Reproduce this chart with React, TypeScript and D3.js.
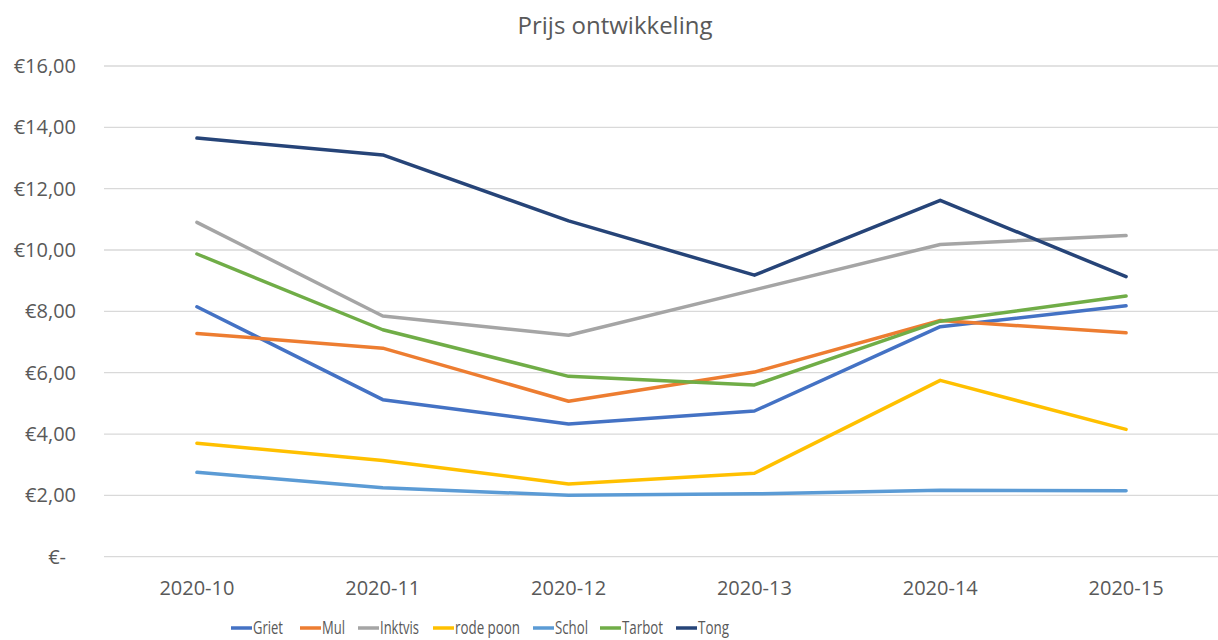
import React, { useEffect, useRef } from 'react';
import * as d3 from 'd3';

const weeks = ['2020-10', '2020-11', '2020-12', '2020-13', '2020-14', '2020-15'];
const griet = [8.15, 5.12, 4.33, 4.75, 7.5, 8.18];
const mul = [7.28, 6.8, 5.07, 6.02, 7.7, 7.3];
const inktvis = [10.9, 7.85, 7.22, 8.7, 10.18, 10.47];
const rodePoon = [3.7, 3.14, 2.37, 2.72, 5.75, 4.15];
const schol = [2.75, 2.25, 2.0, 2.05, 2.17, 2.15];
const tarbot = [9.87, 7.4, 5.88, 5.6, 7.68, 8.5];
const tong = [13.65, 13.1, 10.95, 9.18, 11.62, 9.13];
const yTicks = [0, 2, 4, 6, 8, 10, 12, 14, 16];

const series = [
  { name: 'Griet', values: griet, color: '#4472C4' },
  { name: 'Mul', values: mul, color: '#ED7D31' },
  { name: 'Inktvis', values: inktvis, color: '#A5A5A5' },
  { name: 'rode poon', values: rodePoon, color: '#FFC000' },
  { name: 'Schol', values: schol, color: '#5B9BD5' },
  { name: 'Tarbot', values: tarbot, color: '#70AD47' },
  { name: 'Tong', values: tong, color: '#264478' },
];

const W = 1218;
const H = 640;
const FONT = '"Open Sans", "Liberation Sans", sans-serif';

const App: React.FC = () => {
  const svgRef = useRef<SVGSVGElement>(null);

  useEffect(() => {
    document.body.style.margin = '0';
    if (!svgRef.current) return;
    const svg = d3.select(svgRef.current);
    svg.selectAll('*').remove();

    const x = d3.scaleBand().domain(weeks).range([104, 1219]);
    const y = d3.scaleLinear().domain([0, 16]).range([556.7, 66]);
    const cx = (w: string) => (x(w) as number) + x.bandwidth() / 2;

    svg.append('rect').attr('width', W).attr('height', H).attr('fill', '#fff');

    // title
    svg.append('text')
      .attr('x', 615).attr('y', 34)
      .attr('text-anchor', 'middle')
      .attr('font-family', FONT).attr('font-size', 24)
      .attr('fill', '#595959')
      .text('Prijs ontwikkeling');

    // gridlines + y labels
    const g = svg.append('g');
    yTicks.forEach((t) => {
      g.append('line')
        .attr('x1', 104).attr('x2', 1218)
        .attr('y1', y(t)).attr('y2', y(t))
        .attr('stroke', '#D9D9D9').attr('stroke-width', 1.3);
      g.append('text')
        .attr('x', t === 0 ? 66 : 76)
        .attr('y', y(t) + 7)
        .attr('text-anchor', 'end')
        .attr('font-family', FONT).attr('font-size', 20)
        .attr('fill', '#595959')
        .text(t === 0 ? '€-' : '€' + d3.format('.2f')(t).replace('.', ','));
    });

    // x labels
    weeks.forEach((w) => {
      svg.append('text')
        .attr('x', cx(w)).attr('y', 595)
        .attr('text-anchor', 'middle')
        .attr('font-family', FONT).attr('font-size', 20)
        .attr('fill', '#595959')
        .text(w);
    });

    // lines
    const line = d3.line<number>()
      .x((_, i) => cx(weeks[i]))
      .y((d) => y(d));
    series.forEach((s) => {
      svg.append('path')
        .attr('d', line(s.values) as string)
        .attr('fill', 'none')
        .attr('stroke', s.color)
        .attr('stroke-width', 3.5)
        .attr('stroke-linejoin', 'round')
        .attr('stroke-linecap', 'round');
    });

    // legend (Calibri is narrow, so squeeze text to the original widths)
    const legendX = [231, 300, 358, 433, 533, 600, 676];
    const legendW = [30, 23, 39, 65, 33, 41, 31];
    series.forEach((s, i) => {
      const lx = legendX[i];
      svg.append('line')
        .attr('x1', lx).attr('x2', lx + 21)
        .attr('y1', 628).attr('y2', 628)
        .attr('stroke', s.color).attr('stroke-width', 3.5);
      svg.append('text')
        .attr('x', lx + 22).attr('y', 634)
        .attr('font-family', FONT).attr('font-size', 19)
        .attr('fill', '#595959')
        .attr('textLength', legendW[i])
        .attr('lengthAdjust', 'spacingAndGlyphs')
        .text(s.name);
    });
  }, []);

  return <svg ref={svgRef} width={W} height={H} style={{ display: 'block' }} />;
};

export default App;
